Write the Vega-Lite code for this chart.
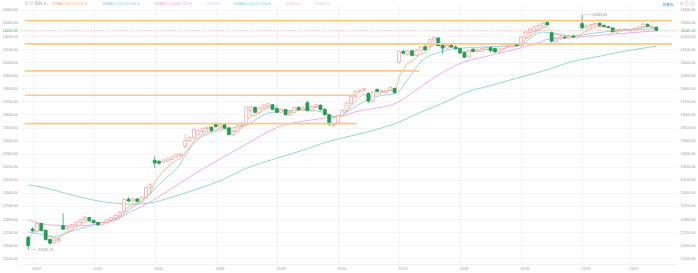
{
"$schema": "https://vega.github.io/schema/vega-lite/v6.json",
"width": 657, "height": 258,
"autosize": {"type": "none"},
"padding": {"left": 20, "top": 6, "right": 21, "bottom": 9},
"background": "#ffffff",
"config": {"view": {"stroke": null}, "font": "Liberation Sans, Noto Sans CJK SC, DejaVu Sans, sans-serif"},
"datasets": {
"candles": [
{"i":0,"o":12660,"h":12672,"l":12565.75,"c":12596},
{"i":1,"o":12724,"h":12738,"l":12700,"c":12710},
{"i":2,"o":12708,"h":12775,"l":12700,"c":12766},
{"i":3,"o":12766,"h":12772,"l":12705,"c":12712},
{"i":4,"o":12715,"h":12720,"l":12635,"c":12642},
{"i":5,"o":12645,"h":12650,"l":12605,"c":12615},
{"i":6,"o":12618,"h":12645,"l":12610,"c":12638},
{"i":7,"o":12632,"h":12660,"l":12625,"c":12643},
{"i":8,"o":12750,"h":12845,"l":12715,"c":12722},
{"i":9,"o":12722,"h":12748,"l":12712,"c":12740},
{"i":10,"o":12738,"h":12765,"l":12730,"c":12758},
{"i":11,"o":12757,"h":12785,"l":12750,"c":12776},
{"i":12,"o":12775,"h":12800,"l":12768,"c":12795},
{"i":13,"o":12794,"h":12820,"l":12788,"c":12813},
{"i":14,"o":12812,"h":12818,"l":12780,"c":12789},
{"i":15,"o":12790,"h":12795,"l":12765,"c":12772},
{"i":16,"o":12774,"h":12780,"l":12745,"c":12755},
{"i":17,"o":12755,"h":12780,"l":12750,"c":12775},
{"i":18,"o":12774,"h":12800,"l":12768,"c":12795},
{"i":19,"o":12793,"h":12815,"l":12785,"c":12810},
{"i":20,"o":12808,"h":12835,"l":12800,"c":12828},
{"i":21,"o":12826,"h":12858,"l":12820,"c":12851},
{"i":22,"o":12858,"h":12962,"l":12850,"c":12950},
{"i":23,"o":12952,"h":12968,"l":12930,"c":12938},
{"i":24,"o":12938,"h":12960,"l":12930,"c":12955},
{"i":25,"o":12954,"h":12960,"l":12925,"c":12935},
{"i":26,"o":12935,"h":12975,"l":12928,"c":12968},
{"i":27,"o":12966,"h":13050,"l":12955,"c":13040},
{"i":28,"o":13040,"h":13075,"l":12990,"c":13061},
{"i":29,"o":13250,"h":13280,"l":13190,"c":13228},
{"i":30,"o":13242,"h":13250,"l":13215,"c":13227},
{"i":31,"o":13236,"h":13258,"l":13228,"c":13252},
{"i":32,"o":13240,"h":13270,"l":13235,"c":13265},
{"i":33,"o":13255,"h":13282,"l":13250,"c":13277},
{"i":34,"o":13276,"h":13300,"l":13270,"c":13296},
{"i":35,"o":13282,"h":13305,"l":13278,"c":13294},
{"i":36,"o":13355,"h":13448,"l":13340,"c":13400},
{"i":37,"o":13400,"h":13432,"l":13388,"c":13424},
{"i":38,"o":13420,"h":13492,"l":13410,"c":13486},
{"i":39,"o":13445,"h":13482,"l":13440,"c":13476},
{"i":40,"o":13470,"h":13500,"l":13455,"c":13495},
{"i":41,"o":13492,"h":13508,"l":13470,"c":13502},
{"i":42,"o":13503,"h":13510,"l":13470,"c":13478},
{"i":43,"o":13527,"h":13540,"l":13500,"c":13507},
{"i":44,"o":13505,"h":13530,"l":13498,"c":13525},
{"i":45,"o":13525,"h":13530,"l":13490,"c":13496},
{"i":46,"o":13498,"h":13502,"l":13440,"c":13446},
{"i":47,"o":13445,"h":13475,"l":13438,"c":13468},
{"i":48,"o":13468,"h":13522,"l":13460,"c":13514},
{"i":49,"o":13512,"h":13548,"l":13502,"c":13519},
{"i":50,"o":13522,"h":13665,"l":13515,"c":13655},
{"i":51,"o":13630,"h":13665,"l":13596,"c":13658},
{"i":52,"o":13655,"h":13660,"l":13610,"c":13616},
{"i":53,"o":13614,"h":13655,"l":13608,"c":13650},
{"i":54,"o":13648,"h":13678,"l":13640,"c":13672},
{"i":55,"o":13660,"h":13688,"l":13652,"c":13682},
{"i":56,"o":13675,"h":13680,"l":13632,"c":13640},
{"i":57,"o":13645,"h":13668,"l":13610,"c":13616},
{"i":58,"o":13618,"h":13645,"l":13610,"c":13640},
{"i":59,"o":13638,"h":13642,"l":13592,"c":13598},
{"i":60,"o":13598,"h":13622,"l":13588,"c":13615},
{"i":61,"o":13615,"h":13660,"l":13610,"c":13654},
{"i":62,"o":13655,"h":13662,"l":13630,"c":13636},
{"i":63,"o":13636,"h":13665,"l":13630,"c":13650},
{"i":64,"o":13690,"h":13705,"l":13622,"c":13630},
{"i":65,"o":13628,"h":13668,"l":13620,"c":13662},
{"i":66,"o":13660,"h":13680,"l":13652,"c":13674},
{"i":67,"o":13672,"h":13676,"l":13630,"c":13638},
{"i":68,"o":13640,"h":13645,"l":13590,"c":13598},
{"i":69,"o":13598,"h":13602,"l":13512,"c":13528},
{"i":70,"o":13515,"h":13534,"l":13505,"c":13522},
{"i":71,"o":13540,"h":13600,"l":13530,"c":13594},
{"i":72,"o":13592,"h":13640,"l":13580,"c":13632},
{"i":73,"o":13630,"h":13695,"l":13620,"c":13688},
{"i":74,"o":13686,"h":13745,"l":13675,"c":13738},
{"i":75,"o":13736,"h":13785,"l":13728,"c":13776},
{"i":76,"o":13774,"h":13795,"l":13760,"c":13788},
{"i":77,"o":13786,"h":13805,"l":13770,"c":13798},
{"i":78,"o":13762,"h":13770,"l":13686,"c":13702},
{"i":79,"o":13702,"h":13780,"l":13698,"c":13772},
{"i":80,"o":13792,"h":13798,"l":13770,"c":13776},
{"i":81,"o":13774,"h":13790,"l":13766,"c":13784},
{"i":82,"o":13770,"h":13790,"l":13765,"c":13785},
{"i":83,"o":13786,"h":13815,"l":13780,"c":13808},
{"i":84,"o":13800,"h":13804,"l":13758,"c":13768},
{"i":85,"o":14000,"h":14090,"l":13990,"c":14082},
{"i":86,"o":14084,"h":14092,"l":14060,"c":14068},
{"i":87,"o":14058,"h":14092,"l":14050,"c":14086},
{"i":88,"o":14088,"h":14094,"l":14045,"c":14050},
{"i":89,"o":14052,"h":14098,"l":14048,"c":14092},
{"i":90,"o":14090,"h":14125,"l":14084,"c":14118},
{"i":91,"o":14118,"h":14135,"l":14088,"c":14094},
{"i":92,"o":14118,"h":14180,"l":14110,"c":14172},
{"i":93,"o":14170,"h":14195,"l":14142,"c":14188},
{"i":94,"o":14186,"h":14190,"l":14120,"c":14126},
{"i":95,"o":14130,"h":14136,"l":14062,"c":14108},
{"i":96,"o":14108,"h":14135,"l":14100,"c":14128},
{"i":97,"o":14130,"h":14136,"l":14110,"c":14115},
{"i":98,"o":14115,"h":14130,"l":14096,"c":14104},
{"i":99,"o":14104,"h":14112,"l":14062,"c":14070},
{"i":100,"o":14075,"h":14080,"l":14032,"c":14038},
{"i":101,"o":14040,"h":14098,"l":14035,"c":14092},
{"i":102,"o":14100,"h":14106,"l":14076,"c":14082},
{"i":103,"o":14082,"h":14100,"l":14075,"c":14095},
{"i":104,"o":14085,"h":14110,"l":14078,"c":14105},
{"i":105,"o":14098,"h":14122,"l":14090,"c":14114},
{"i":106,"o":14112,"h":14120,"l":14080,"c":14088},
{"i":107,"o":14106,"h":14110,"l":14072,"c":14078},
{"i":108,"o":14078,"h":14105,"l":14072,"c":14100},
{"i":109,"o":14102,"h":14134,"l":14095,"c":14130},
{"i":110,"o":14120,"h":14138,"l":14112,"c":14132},
{"i":111,"o":14120,"h":14148,"l":14115,"c":14142},
{"i":112,"o":14140,"h":14146,"l":14120,"c":14125},
{"i":113,"o":14128,"h":14200,"l":14118,"c":14192},
{"i":114,"o":14190,"h":14238,"l":14180,"c":14230},
{"i":115,"o":14228,"h":14262,"l":14205,"c":14255},
{"i":116,"o":14238,"h":14275,"l":14230,"c":14270},
{"i":117,"o":14248,"h":14288,"l":14242,"c":14282},
{"i":118,"o":14275,"h":14302,"l":14268,"c":14298},
{"i":119,"o":14305,"h":14312,"l":14278,"c":14285},
{"i":120,"o":14225,"h":14232,"l":14150,"c":14160},
{"i":121,"o":14158,"h":14190,"l":14150,"c":14182},
{"i":122,"o":14180,"h":14200,"l":14172,"c":14192},
{"i":123,"o":14190,"h":14205,"l":14176,"c":14185},
{"i":124,"o":14185,"h":14206,"l":14180,"c":14198},
{"i":125,"o":14198,"h":14210,"l":14188,"c":14192},
{"i":126,"o":14190,"h":14215,"l":14186,"c":14205},
{"i":127,"o":14295,"h":14363.61,"l":14255,"c":14262},
{"i":128,"o":14262,"h":14285,"l":14255,"c":14278},
{"i":129,"o":14276,"h":14292,"l":14268,"c":14288},
{"i":130,"o":14286,"h":14302,"l":14280,"c":14296},
{"i":131,"o":14298,"h":14304,"l":14276,"c":14280},
{"i":132,"o":14282,"h":14290,"l":14266,"c":14272},
{"i":133,"o":14272,"h":14280,"l":14258,"c":14266},
{"i":134,"o":14262,"h":14268,"l":14228,"c":14232},
{"i":135,"o":14232,"h":14245,"l":14218,"c":14240},
{"i":136,"o":14238,"h":14255,"l":14232,"c":14248},
{"i":137,"o":14246,"h":14258,"l":14240,"c":14251},
{"i":138,"o":14240,"h":14256,"l":14226,"c":14250},
{"i":139,"o":14248,"h":14262,"l":14240,"c":14258},
{"i":140,"o":14256,"h":14275,"l":14250,"c":14270},
{"i":141,"o":14268,"h":14295,"l":14262,"c":14290},
{"i":142,"o":14290,"h":14296,"l":14268,"c":14274},
{"i":143,"o":14266,"h":14278,"l":14258,"c":14270},
{"i":144,"o":14268,"h":14272,"l":14236,"c":14241.02}
],
"ma": [
{"s":"EMA60","i":0,"v":13061},{"s":"EMA60","i":4,"v":13038},{"s":"EMA60","i":8.3,"v":12999},{"s":"EMA60","i":12.8,"v":12961},{"s":"EMA60","i":17.3,"v":12931},{"s":"EMA60","i":20.7,"v":12919},{"s":"EMA60","i":24.1,"v":12915},{"s":"EMA60","i":27.5,"v":12921},{"s":"EMA60","i":33.1,"v":12969},{"s":"EMA60","i":38.8,"v":13030},{"s":"EMA60","i":44.4,"v":13099},{"s":"EMA60","i":50.1,"v":13189},{"s":"EMA60","i":55.7,"v":13252},{"s":"EMA60","i":62.5,"v":13321},{"s":"EMA60","i":69.2,"v":13397},{"s":"EMA60","i":74.9,"v":13443},{"s":"EMA60","i":79.4,"v":13482},{"s":"EMA60","i":84.4,"v":13533},{"s":"EMA60","i":89.6,"v":13612},{"s":"EMA60","i":95.2,"v":13688},{"s":"EMA60","i":99.8,"v":13762},{"s":"EMA60","i":106.5,"v":13826},{"s":"EMA60","i":112.2,"v":13880},{"s":"EMA60","i":118.9,"v":13941},{"s":"EMA60","i":124.6,"v":14004},{"s":"EMA60","i":130.2,"v":14040},{"s":"EMA60","i":137,"v":14086},{"s":"EMA60","i":144,"v":14122},
{"s":"EMA20","i":0,"v":12793},{"s":"EMA20","i":4.9,"v":12755},{"s":"EMA20","i":10.5,"v":12747},{"s":"EMA20","i":16.2,"v":12762},{"s":"EMA20","i":20.7,"v":12801},{"s":"EMA20","i":23,"v":12847},{"s":"EMA20","i":27.5,"v":12923},{"s":"EMA20","i":33.1,"v":13038},{"s":"EMA20","i":38.8,"v":13160},{"s":"EMA20","i":44.4,"v":13267},{"s":"EMA20","i":50.1,"v":13374},{"s":"EMA20","i":56.8,"v":13497},{"s":"EMA20","i":66.5,"v":13566},{"s":"EMA20","i":72.6,"v":13596},{"s":"EMA20","i":74.9,"v":13619},{"s":"EMA20","i":84.4,"v":13688},{"s":"EMA20","i":89.6,"v":13803},{"s":"EMA20","i":95.2,"v":13925},{"s":"EMA20","i":99.8,"v":14001},{"s":"EMA20","i":105.4,"v":14048},{"s":"EMA20","i":112.6,"v":14107},{"s":"EMA20","i":116.7,"v":14147},{"s":"EMA20","i":119.4,"v":14178},{"s":"EMA20","i":125.7,"v":14193},{"s":"EMA20","i":134.7,"v":14216},{"s":"EMA20","i":144,"v":14240},
{"s":"EMA10","i":0,"v":12701},{"s":"EMA10","i":2.6,"v":12686},{"s":"EMA10","i":5.6,"v":12663},{"s":"EMA10","i":9.4,"v":12701},{"s":"EMA10","i":13.3,"v":12739},{"s":"EMA10","i":17.3,"v":12778},{"s":"EMA10","i":20.7,"v":12808},{"s":"EMA10","i":23,"v":12870},{"s":"EMA10","i":26.4,"v":12946},{"s":"EMA10","i":30.4,"v":13077},{"s":"EMA10","i":34.3,"v":13199},{"s":"EMA10","i":38.1,"v":13383},{"s":"EMA10","i":41.7,"v":13459},{"s":"EMA10","i":45.5,"v":13489},{"s":"EMA10","i":50,"v":13520},{"s":"EMA10","i":55.2,"v":13612},{"s":"EMA10","i":62.9,"v":13635},{"s":"EMA10","i":67.4,"v":13619},{"s":"EMA10","i":70.4,"v":13583},{"s":"EMA10","i":72.6,"v":13610},{"s":"EMA10","i":74.9,"v":13660},{"s":"EMA10","i":79.4,"v":13734},{"s":"EMA10","i":84.4,"v":13765},{"s":"EMA10","i":87.3,"v":13880},{"s":"EMA10","i":90,"v":14002},{"s":"EMA10","i":94.5,"v":14078},{"s":"EMA10","i":99.7,"v":14109},{"s":"EMA10","i":105.4,"v":14117},{"s":"EMA10","i":112.6,"v":14132},{"s":"EMA10","i":117.8,"v":14231},{"s":"EMA10","i":120,"v":14224},{"s":"EMA10","i":124.5,"v":14201},{"s":"EMA10","i":130.2,"v":14224},{"s":"EMA10","i":137,"v":14247},{"s":"EMA10","i":144,"v":14255},
{"s":"EMA5","i":0,"v":12655},{"s":"EMA5","i":1,"v":12690},{"s":"EMA5","i":2,"v":12710},{"s":"EMA5","i":3,"v":12712},{"s":"EMA5","i":4,"v":12690},{"s":"EMA5","i":5,"v":12665},{"s":"EMA5","i":6,"v":12655},{"s":"EMA5","i":7,"v":12652},{"s":"EMA5","i":8,"v":12680},{"s":"EMA5","i":9,"v":12700},{"s":"EMA5","i":10,"v":12720},{"s":"EMA5","i":11,"v":12738},{"s":"EMA5","i":12,"v":12758},{"s":"EMA5","i":13,"v":12777},{"s":"EMA5","i":14,"v":12780},{"s":"EMA5","i":15,"v":12778},{"s":"EMA5","i":16,"v":12770},{"s":"EMA5","i":17,"v":12772},{"s":"EMA5","i":18,"v":12783},{"s":"EMA5","i":19,"v":12795},{"s":"EMA5","i":20,"v":12808},{"s":"EMA5","i":21,"v":12825},{"s":"EMA5","i":22,"v":12866},{"s":"EMA5","i":23,"v":12890},{"s":"EMA5","i":24,"v":12910},{"s":"EMA5","i":25,"v":12918},{"s":"EMA5","i":26,"v":12935},{"s":"EMA5","i":27,"v":12970},{"s":"EMA5","i":28,"v":13000},{"s":"EMA5","i":29,"v":13076},{"s":"EMA5","i":30,"v":13126},{"s":"EMA5","i":31,"v":13168},{"s":"EMA5","i":32,"v":13200},{"s":"EMA5","i":33,"v":13226},{"s":"EMA5","i":34,"v":13250},{"s":"EMA5","i":35,"v":13265},{"s":"EMA5","i":36,"v":13310},{"s":"EMA5","i":37,"v":13348},{"s":"EMA5","i":38,"v":13394},{"s":"EMA5","i":39,"v":13421},{"s":"EMA5","i":40,"v":13446},{"s":"EMA5","i":41,"v":13465},{"s":"EMA5","i":42,"v":13470},{"s":"EMA5","i":43,"v":13482},{"s":"EMA5","i":44,"v":13496},{"s":"EMA5","i":45,"v":13496},{"s":"EMA5","i":46,"v":13479},{"s":"EMA5","i":47,"v":13475},{"s":"EMA5","i":48,"v":13488},{"s":"EMA5","i":49,"v":13498},{"s":"EMA5","i":50,"v":13550},{"s":"EMA5","i":51,"v":13586},{"s":"EMA5","i":52,"v":13596},{"s":"EMA5","i":53,"v":13614},{"s":"EMA5","i":54,"v":13633},{"s":"EMA5","i":55,"v":13650},{"s":"EMA5","i":56,"v":13647},{"s":"EMA5","i":57,"v":13636},{"s":"EMA5","i":58,"v":13637},{"s":"EMA5","i":59,"v":13624},{"s":"EMA5","i":60,"v":13621},{"s":"EMA5","i":61,"v":13632},{"s":"EMA5","i":62,"v":13633},{"s":"EMA5","i":63,"v":13639},{"s":"EMA5","i":64,"v":13636},{"s":"EMA5","i":65,"v":13645},{"s":"EMA5","i":66,"v":13655},{"s":"EMA5","i":67,"v":13649},{"s":"EMA5","i":68,"v":13632},{"s":"EMA5","i":69,"v":13597},{"s":"EMA5","i":70,"v":13572},{"s":"EMA5","i":71,"v":13580},{"s":"EMA5","i":72,"v":13597},{"s":"EMA5","i":73,"v":13628},{"s":"EMA5","i":74,"v":13665},{"s":"EMA5","i":75,"v":13702},{"s":"EMA5","i":76,"v":13731},{"s":"EMA5","i":77,"v":13753},{"s":"EMA5","i":78,"v":13736},{"s":"EMA5","i":79,"v":13748},{"s":"EMA5","i":80,"v":13757},{"s":"EMA5","i":81,"v":13766},{"s":"EMA5","i":82,"v":13772},{"s":"EMA5","i":83,"v":13784},{"s":"EMA5","i":84,"v":13779},{"s":"EMA5","i":85,"v":13880},{"s":"EMA5","i":86,"v":13943},{"s":"EMA5","i":87,"v":13990},{"s":"EMA5","i":88,"v":14010},{"s":"EMA5","i":89,"v":14037},{"s":"EMA5","i":90,"v":14064},{"s":"EMA5","i":91,"v":14074},{"s":"EMA5","i":92,"v":14107},{"s":"EMA5","i":93,"v":14134},{"s":"EMA5","i":94,"v":14131},{"s":"EMA5","i":95,"v":14123},{"s":"EMA5","i":96,"v":14125},{"s":"EMA5","i":97,"v":14122},{"s":"EMA5","i":98,"v":14116},{"s":"EMA5","i":99,"v":14101},{"s":"EMA5","i":100,"v":14080},{"s":"EMA5","i":101,"v":14084},{"s":"EMA5","i":102,"v":14083},{"s":"EMA5","i":103,"v":14087},{"s":"EMA5","i":104,"v":14093},{"s":"EMA5","i":105,"v":14100},{"s":"EMA5","i":106,"v":14096},{"s":"EMA5","i":107,"v":14090},{"s":"EMA5","i":108,"v":14093},{"s":"EMA5","i":109,"v":14105},{"s":"EMA5","i":110,"v":14114},{"s":"EMA5","i":111,"v":14123},{"s":"EMA5","i":112,"v":14124},{"s":"EMA5","i":113,"v":14147},{"s":"EMA5","i":114,"v":14175},{"s":"EMA5","i":115,"v":14201},{"s":"EMA5","i":116,"v":14224},{"s":"EMA5","i":117,"v":14243},{"s":"EMA5","i":118,"v":14262},{"s":"EMA5","i":119,"v":14270},{"s":"EMA5","i":120,"v":14233},{"s":"EMA5","i":121,"v":14216},{"s":"EMA5","i":122,"v":14208},{"s":"EMA5","i":123,"v":14200},{"s":"EMA5","i":124,"v":14199},{"s":"EMA5","i":125,"v":14197},{"s":"EMA5","i":126,"v":14199},{"s":"EMA5","i":127,"v":14220},{"s":"EMA5","i":128,"v":14239},{"s":"EMA5","i":129,"v":14255},{"s":"EMA5","i":130,"v":14269},{"s":"EMA5","i":131,"v":14273},{"s":"EMA5","i":132,"v":14272},{"s":"EMA5","i":133,"v":14270},{"s":"EMA5","i":134,"v":14257},{"s":"EMA5","i":135,"v":14251},{"s":"EMA5","i":136,"v":14250},{"s":"EMA5","i":137,"v":14250},{"s":"EMA5","i":138,"v":14250},{"s":"EMA5","i":139,"v":14253},{"s":"EMA5","i":140,"v":14259},{"s":"EMA5","i":141,"v":14269},{"s":"EMA5","i":142,"v":14271},{"s":"EMA5","i":143,"v":14271},{"s":"EMA5","i":144,"v":14250}
],
"levels": [
{"v":14318,"a":-0.74,"b":147.6},
{"v":14140,"a":-0.74,"b":147.6},
{"v":13933,"a":-0.74,"b":89.6},
{"v":13747,"a":-0.74,"b":75.3},
{"v":13530,"a":-0.74,"b":75.3}
],
"price": [{"v":14241.02}],
"extremes": [
{"i":127,"v":14363.61,"t":"14363.61"},
{"i":0,"v":12565.75,"t":"12565.75"}
]
},
"resolve": {"axis": {"y": "independent"}},
"layer": [
{
"data": {"name": "ma"},
"mark": {"type": "line", "strokeWidth": 0.85, "interpolate": "monotone"},
"encoding": {
"x": {"field": "i", "type": "quantitative", "scale": {"domain": [-0.74, 147.6], "nice": false, "zero": false},
"axis": {"values": [1,15,29,43,57,71,85,99,113,127,138], "labelExpr": "['10/27','10/31','11/02','11/06','11/08','11/10','11/14','11/16','11/20','11/22','11/27'][indexof([1,15,29,43,57,71,85,99,113,127,138], datum.value)]", "grid": true, "gridColor": "#f0f0f0", "gridWidth": 0.7, "ticks": false, "domain": true, "domainColor": "#ebebeb", "domainWidth": 0.7, "labelFontSize": 3.6, "labelColor": "#9a9a9a", "labelPadding": 2.5, "labelOffset": 3.5, "labelFlush": false, "title": "前复权", "titleX": 642, "titleY": -260, "titleAlign": "left", "titleBaseline": "middle", "titleAngle": 0, "titleFontSize": 3.6, "titleFontWeight": "normal", "titleColor": "#3d8fe6"}},
"y": {"field": "v", "type": "quantitative", "scale": {"domain": [12456, 14430], "nice": false, "zero": false},
"axis": {"orient": "left", "values": [12500,12600,12700,12800,12900,13000,13100,13200,13300,13400,13500,13600,13700,13800,13900,14000,14100,14200,14241.02,14300,14400], "format": ".2f", "labelFontSize": 3.6, "labelColor": {"condition": {"test": "datum.value == 14241.02", "value": "#1f9f62"}, "value": "#9a9a9a"}, "labelPadding": 2.7, "labelOverlap": false, "labelFlush": false, "ticks": false, "domain": false, "grid": true, "gridColor": {"condition": {"test": "datum.value == 14241.02", "value": "rgba(0,0,0,0)"}, "value": "#f1f1f1"}, "gridWidth": 0.7, "title": "⊙ ⊙ 指标 ▾", "titleAngle": 0, "titleX": 4, "titleY": -2.3, "titleAlign": "left", "titleBaseline": "middle", "titleFontSize": 4, "titleFontWeight": "normal", "titleColor": "#a0a0a0"}},
"color": {"field": "s", "type": "nominal",
"scale": {"domain": ["EMA5","EMA10","EMA20","EMA30","EMA60","EMA120","EMA250"], "range": ["#f8ae78","#84cdec","#eea2e3","#d8d0f4","#7fd8aa","#f4ccd3","#dcdcdc"]},
"legend": {"orient": "none", "legendX": 29, "legendY": -4.5, "direction": "horizontal", "columns": 7, "title": null, "padding": 0, "symbolSize": 0, "symbolOpacity": 0, "symbolStrokeWidth": 0, "labelOffset": 0, "columnPadding": 9, "labelFontSize": 4, "labelExpr": "datum.label=='EMA5'?'EMA5   14250.224 ▾':datum.label=='EMA10'?'EMA10   14255.163 ▾':datum.label=='EMA20'?'EMA20   14240.722 ▾':datum.label=='EMA60'?'EMA60   14122.244 ▾':datum.label",
"encode": {"labels": {"update": {"fill": {"scale": "color", "field": "value"}}}}}}
}
},
{
"data": {"name": "candles"},
"mark": {"type": "rule", "strokeWidth": 0.7},
"encoding": {
"x": {"field": "i", "type": "quantitative"},
"y": {"field": "l", "type": "quantitative", "axis": {"orient": "right", "values": [12500,12600,12700,12800,12900,13000,13100,13200,13300,13400,13500,13600,13700,13800,13900,14000,14100,14200,14241.02,14300,14400], "format": ".2f", "labelFontSize": 3.6, "labelColor": {"condition": {"test": "datum.value == 14241.02", "value": "#1f9f62"}, "value": "#9a9a9a"}, "labelPadding": 3, "labelOverlap": false, "labelFlush": false, "ticks": false, "domain": false, "grid": false, "title": "↺ ⊖ ⊙", "titleAngle": 0, "titleX": 2, "titleY": -2.3, "titleAlign": "left", "titleBaseline": "middle", "titleFontSize": 4.5, "titleFontWeight": "normal", "titleColor": "#b0b0b0"}},
"y2": {"field": "h"},
"stroke": {"condition": {"test": "datum.c < datum.o", "value": "#1c9e55"}, "value": "#f39b9b"}
}
},
{
"data": {"name": "candles"},
"mark": {"type": "bar", "size": 3, "strokeWidth": 0.7},
"encoding": {
"x": {"field": "i", "type": "quantitative"},
"y": {"field": "o", "type": "quantitative", "axis": null},
"y2": {"field": "c"},
"fill": {"condition": {"test": "datum.c < datum.o", "value": "#1c9e55"}, "value": "#ffffff"},
"stroke": {"condition": {"test": "datum.c < datum.o", "value": "#1c9e55"}, "value": "#f39b9b"}
}
},
{
"data": {"name": "levels"},
"mark": {"type": "rule", "stroke": "#fdc77a", "strokeWidth": 1.7, "opacity": 0.95},
"encoding": {
"x": {"field": "a", "type": "quantitative"},
"x2": {"field": "b"},
"y": {"field": "v", "type": "quantitative", "axis": null}
}
},
{
"data": {"name": "price"},
"mark": {"type": "rule", "stroke": "#f5a994", "strokeWidth": 0.8, "strokeDash": [1.5, 1.5]},
"encoding": {
"y": {"field": "v", "type": "quantitative", "axis": null}
}
},
{
"data": {"name": "extremes"},
"mark": {"type": "rule", "stroke": "#b8b8b8", "strokeWidth": 0.5, "x2Offset": 9},
"encoding": {
"x": {"field": "i", "type": "quantitative"},
"x2": {"field": "i"},
"y": {"field": "v", "type": "quantitative", "axis": null}
}
},
{
"data": {"name": "extremes"},
"mark": {"type": "text", "align": "left", "baseline": "middle", "dx": 10, "fontSize": 3.6, "fill": "#8c8c8c"},
"encoding": {
"x": {"field": "i", "type": "quantitative"},
"y": {"field": "v", "type": "quantitative", "axis": null},
"text": {"field": "t"}
}
}
]
}
